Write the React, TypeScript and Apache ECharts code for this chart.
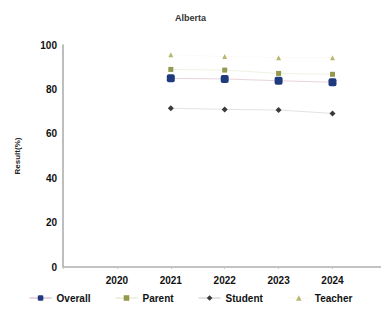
import React, { useEffect, useRef } from "react";
import * as echarts from "echarts";

// Survey results by year (percent)
const years = [2021, 2022, 2023, 2024];
const overall = [85.0, 84.7, 83.9, 83.2];
const parent = [89.0, 88.7, 87.2, 86.8];
const student = [71.5, 71.0, 70.7, 69.2];
const teacher = [95.6, 94.8, 94.3, 94.3];
const yTicks = [0, 20, 40, 60, 80, 100];

const pairs = (vals: number[]) => years.map((y, i) => [y, vals[i]]);

export default function App() {
  const ref = useRef<HTMLDivElement>(null);

  useEffect(() => {
    if (!ref.current) return;
    const chart = echarts.init(ref.current, undefined, { renderer: "svg" });
    const font = "Liberation Sans, Arial, sans-serif";
    chart.setOption({
      animation: false,
      title: {
        text: "Alberta",
        left: "center",
        top: 8,
        textStyle: { fontSize: 9, fontWeight: "bold", color: "#333", fontFamily: font },
      },
      grid: { left: 63, top: 45, right: 0, bottom: 57 },
      xAxis: {
        type: "value",
        min: 2019,
        max: 2024.9,
        interval: 1,
        axisLine: { lineStyle: { color: "#b0b0b0", width: 1.5 } },
        axisTick: { show: true, length: 2, lineStyle: { color: "#c8c8c8" } },
        splitLine: { show: false },
        axisLabel: {
          color: "#111",
          fontSize: 10,
          fontWeight: "bold",
          fontFamily: font,
          margin: 8,
          showMaxLabel: false,
          formatter: (v: number) => (v >= 2020 && v <= 2024 && Number.isInteger(v) ? String(v) : ""),
        },
      },
      yAxis: {
        type: "value",
        min: yTicks[0],
        max: yTicks[yTicks.length - 1],
        interval: 20,
        name: "Result(%)",
        nameLocation: "middle",
        nameGap: 42,
        nameTextStyle: { fontSize: 8, fontWeight: "bold", color: "#222", fontFamily: font },
        axisLine: { show: true, lineStyle: { color: "#a8a8a8", width: 1.5 } },
        axisTick: { show: false },
        splitLine: { show: false },
        axisLabel: { color: "#111", fontSize: 10, fontWeight: "bold", fontFamily: font, margin: 6 },
      },
      legend: {
        bottom: 16,
        left: "center",
        itemWidth: 22,
        itemHeight: 7,
        itemGap: 24,
        textStyle: { fontSize: 10, fontWeight: "bold", color: "#111", fontFamily: font },
        data: ["Overall", "Parent", "Student", "Teacher"],
      },
      series: [
        {
          name: "Overall",
          type: "line",
          data: pairs(overall),
          symbol: "roundRect",
          symbolSize: 8,
          itemStyle: { color: "#1f3a7d" },
          lineStyle: { color: "#e9d3de", width: 1 },
          z: 4,
        },
        {
          name: "Parent",
          type: "line",
          data: pairs(parent),
          symbol: "rect",
          symbolSize: 5,
          itemStyle: { color: "#939a4e" },
          lineStyle: { color: "#dfe5c8", width: 1, opacity: 0.5 },
          z: 3,
        },
        {
          name: "Student",
          type: "line",
          data: pairs(student),
          symbol: "diamond",
          symbolSize: 6,
          itemStyle: { color: "#3a3a3a" },
          lineStyle: { color: "#e3e3e3", width: 1 },
          z: 3,
        },
        {
          name: "Teacher",
          type: "line",
          data: pairs(teacher),
          symbol: "triangle",
          symbolSize: 5,
          itemStyle: { color: "#b9b873" },
          lineStyle: { color: "#f1f0e0", width: 1, opacity: 0.3 },
          z: 2,
        },
      ],
    });
    return () => chart.dispose();
  }, []);

  return (
    <div
      ref={ref}
      style={{ position: "fixed", left: 0, top: 0, width: 381, height: 324, background: "#fff" }}
    />
  );
}
